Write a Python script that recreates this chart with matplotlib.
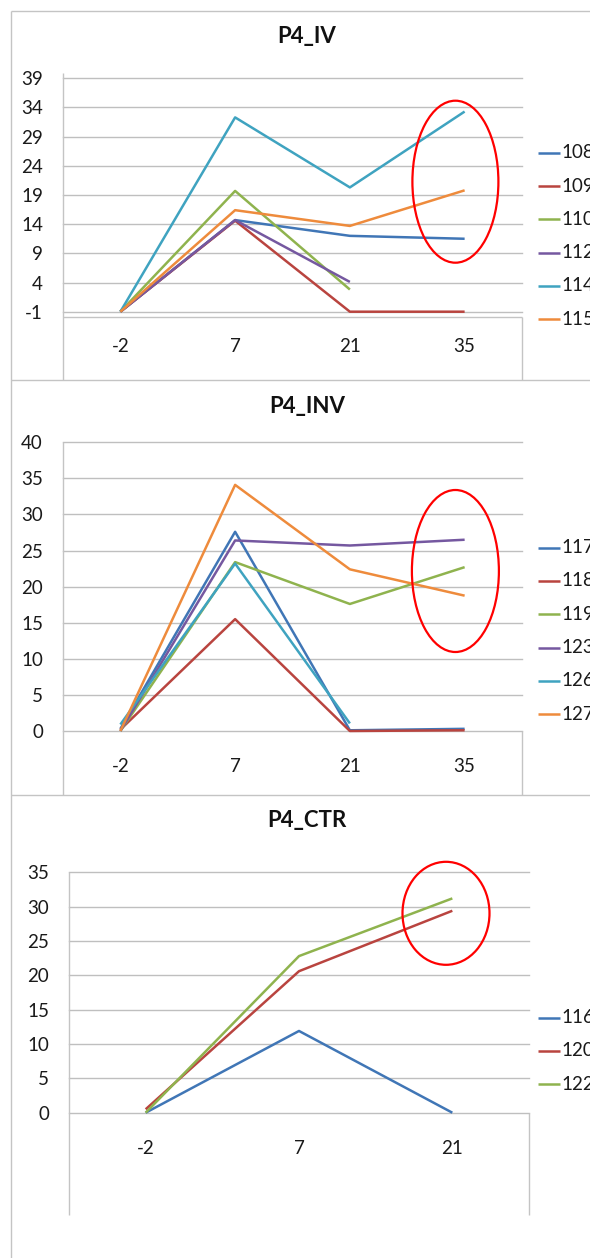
import numpy as np
import matplotlib
matplotlib.use("Agg")
import matplotlib.pyplot as plt
from matplotlib.lines import Line2D
from matplotlib.patches import Ellipse

plt.rcParams['font.family'] = ['Lato', 'DejaVu Sans']
plt.rcParams['axes.unicode_minus'] = False

W, H = 590, 1258
nan = np.nan

# P4_IV
iv_days = ['-2', '7', '21', '35']
iv_ids = ['108', '109', '110', '112', '114', '115']
iv_108 = [-1, 14.7, 12.0, 11.5]
iv_109 = [-1, 14.6, -1, -1]
iv_110 = [-1, 19.7, 2.8, nan]
iv_112 = [-1, 14.7, 4.1, nan]
iv_114 = [-1, 32.3, 20.3, 33.3]
iv_115 = [-1, 16.4, 13.7, 19.8]
iv_yticks = list(range(-1, 40, 5))

# P4_INV
inv_days = ['-2', '7', '21', '35']
inv_ids = ['117', '118', '119', '123', '126', '127']
inv_117 = [0.3, 27.6, 0.1, 0.3]
inv_118 = [0.2, 15.5, 0.0, 0.1]
inv_119 = [0.0, 23.4, 17.6, 22.7]
inv_123 = [0.0, 26.4, 25.7, 26.5]
inv_126 = [0.9, 23.2, 1.05, nan]
inv_127 = [0.0, 34.1, 22.4, 18.75]
inv_yticks = list(range(0, 41, 5))

# P4_CTR
ctr_days = ['-2', '7', '21']
ctr_ids = ['116', '120', '122']
ctr_116 = [0.0, 11.9, 0.0]
ctr_120 = [0.5, 20.6, 29.4]
ctr_122 = [0.0, 22.8, 31.2]
ctr_yticks = list(range(0, 36, 5))

colors = ['#4076B6', '#B9443F', '#8FB34E', '#7558A0', '#3FA3C0', '#EE8B3C']
grid_c = '#BFBFBF'
frame_c = '#C4C4C4'


def fx(px):
    return px / W


def fy(py):
    return 1 - py / H


fig = plt.figure(figsize=(W / 100, H / 100), dpi=100)
fig.patch.set_facecolor('white')


def fline(x0, y0, x1, y1, c=frame_c, lw=1.0):
    fig.add_artist(Line2D([fx(x0), fx(x1)], [fy(y0), fy(y1)], color=c, lw=lw,
                          transform=fig.transFigure, solid_capstyle='butt'))


# sheet / chart frame lines
fline(10.5, 11, 590, 11)
fline(10.5, 11, 10.5, 1258)
fline(10.5, 380, 590, 380)
fline(10.5, 795, 590, 795)
fline(63, 73, 63, 380)
fline(522, 316.7, 522, 380)
fline(63, 316.7, 522, 316.7)
fline(63, 442, 63, 795)
fline(522, 731, 522, 795)
fline(69, 872, 69, 1215)
fline(529, 1112.7, 529, 1215)


def panel(box, title, title_y, days, ids, series, yticks, ylab_right, xlab_y,
          leg_y, ell):
    left, right, top, bottom = box
    ax = fig.add_axes([fx(left), fy(bottom), fx(right) - fx(left),
                       fy(top) - fy(bottom)])
    ax.set_facecolor('none')
    for s in ax.spines.values():
        s.set_visible(False)
    for i, vals in enumerate(series):
        ax.plot(days, vals, color=colors[i], lw=1.8, solid_joinstyle='round',
                solid_capstyle='butt', clip_on=False)
    ax.set_xlim(-0.5, len(days) - 0.5)
    ax.set_ylim(yticks[0], yticks[-1])
    ax.set_yticks(yticks)
    ax.yaxis.grid(True, color=grid_c, lw=1.0)
    for gl in ax.get_ygridlines():
        gl.set_clip_on(False)
    ax.set_axisbelow(True)
    ax.tick_params(length=0, labelsize=13.5, labelcolor='#1a1a1a')
    ax.tick_params(axis='y', pad=(left - ylab_right) * 0.72)
    ax.tick_params(axis='x', pad=(xlab_y - bottom) * 0.72)
    plt.setp(ax.get_xticklabels(), va='center')

    fig.text(fx(307), fy(title_y), title, ha='center', va='center',
             fontsize=16, fontweight='bold', color='#111111')

    for i, name in enumerate(ids):
        y = leg_y[0] + i * leg_y[1]
        fline(538, y, 560, y, c=colors[i], lw=1.8)
        fig.text(fx(561), fy(y), name, ha='left', va='center', fontsize=13.5,
                 color='#1a1a1a')

    cx, cy, ew, eh = ell
    fig.add_artist(Ellipse((fx(cx), fy(cy)), ew / W, eh / H, fill=False,
                           edgecolor='#FF0000', lw=1.6,
                           transform=fig.transFigure))
    return ax


panel((63, 522, 78.3, 311.7), 'P4_IV', 36, iv_days, iv_ids,
      [iv_108, iv_109, iv_110, iv_112, iv_114, iv_115], iv_yticks, 43, 346.7,
      (152.7, 33.3), (455.4, 181.7, 86, 162))

panel((63, 522, 442.3, 731), 'P4_INV', 406.5, inv_days, inv_ids,
      [inv_117, inv_118, inv_119, inv_123, inv_126, inv_127], inv_yticks, 43,
      766.7, (547.7, 33.3), (455.4, 571, 87, 162))

panel((69, 529, 872.3, 1112.7), 'P4_CTR', 820.5, ctr_days, ctr_ids,
      [ctr_116, ctr_120, ctr_122], ctr_yticks, 49, 1148,
      (1017.7, 33.3), (446, 913.3, 87, 103))

fig.savefig('out.png', dpi=100, facecolor='white')
